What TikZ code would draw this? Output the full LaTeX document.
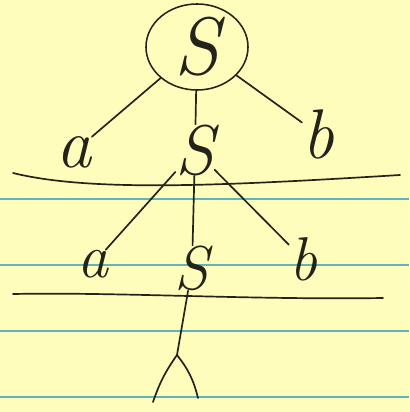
\documentclass[tikz,border=0pt]{standalone}
\usepackage{tikz}
\usetikzlibrary{arrows.meta, calc, shapes.geometric}
\definecolor{padyellow}{RGB}{255,253,188}
\definecolor{ruleblue}{RGB}{95,180,190}
\definecolor{pencil}{RGB}{35,35,25}

\begin{document}
\begin{tikzpicture}[x=0.025cm, y=-0.025cm,
  sym/.style={inner sep=0pt, text=pencil, font=\fontsize{50}{50}\selectfont\itshape},
  symsmall/.style={sym, font=\fontsize{44}{44}\selectfont\itshape},
  branch/.style={draw=pencil, line width=1.2pt, line cap=round},
  ruling/.style={draw=ruleblue, line width=1.5pt}]
  % paper
  \fill[padyellow] (0,0) rectangle (409,412);
  \useasboundingbox (0,0) rectangle (409,412);
  % printed rules
  \foreach \ry in {199,265,331,397}
    \draw[ruling] (0,\ry) -- (409,\ry);
  % hand drawn separators
  \draw[branch] (13,173) .. controls (90,192) and (220,186) .. (400,175);
  \draw[branch] (13,294) .. controls (120,292) and (250,300) .. (383,298);
  % top level
  \node[sym, draw=pencil, line width=1.1pt, ellipse, inner sep=0pt,
        font=\fontsize{58}{58}\selectfont\itshape,
        minimum width=2.55cm, minimum height=2.15cm] (root) at (197,47) {S};
  \node[sym] (a1) at (74,152) {a};
  \node[sym] (s1) at (195,150) {S};
  \node[sym] (b1) at (318,134) {b};
  \draw[branch] (root) -- (a1);
  \draw[branch] (root) -- (s1);
  \draw[branch] (root) -- (b1);
  % second level
  \node[symsmall] (a2) at (93,264) {a};
  \node[symsmall] (s2) at (192,268) {S};
  \node[symsmall] (b2) at (303,259) {b};
  \draw[branch] (s1) -- (a2);
  \draw[branch] (s1) -- (s2);
  \draw[branch] (s1) -- (b2);
  % stem with fork
  \coordinate (fork) at (177,355);
  \coordinate (forkl) at (153,402);
  \coordinate (forkr) at (198,398);
  \draw[branch] (s2) -- (fork);
  \draw[branch] (fork) to[bend right=8] (forkl);
  \draw[branch] (fork) to[bend left=12] (forkr);
\end{tikzpicture}
\end{document}
